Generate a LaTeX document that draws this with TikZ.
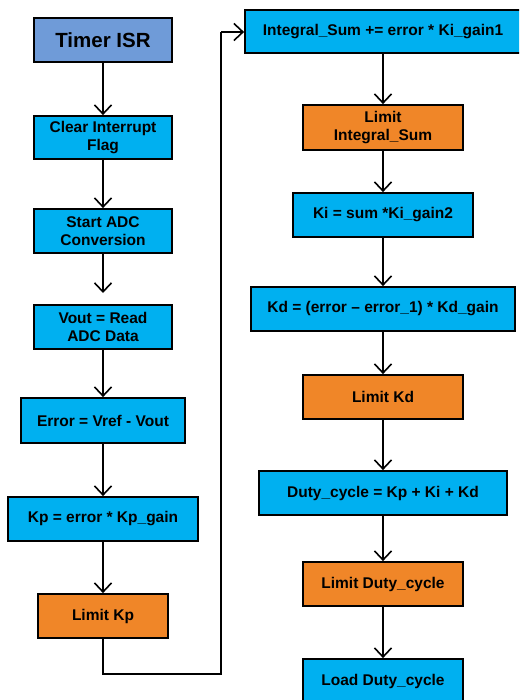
\documentclass[tikz,border=0pt]{standalone}
\usepackage{fontspec}
\setmainfont{Liberation Sans}
\usetikzlibrary{arrows.meta}
\definecolor{cblue}{RGB}{0,176,240}
\definecolor{corange}{RGB}{240,134,40}
\definecolor{cstart}{RGB}{111,155,216}
\begin{document}
\begin{tikzpicture}[x=1pt,y=-1pt,
  box/.style={draw=black,line width=1.8pt,inner sep=0pt,align=center,
    font=\fontsize{15.5}{18.5}\selectfont\bfseries,fill=cblue},
  obox/.style={box,fill=corange},
  conn/.style={line width=1.6pt,-{Straight Barb[length=9pt,width=17pt,line width=1.6pt]}},
  wire/.style={line width=1.6pt}]
\useasboundingbox (0,0) rectangle (519,700);
\clip (0,0) rectangle (519,700);
% left column
\node[box,fill=cstart,minimum width=138,minimum height=44,font=\fontsize{20.5}{24}\selectfont\bfseries] (timer) at (103,40) {Timer ISR};
\node[box,minimum width=138,minimum height=43] (clear) at (103,137.5) {Clear Interrupt\\Flag};
\node[box,minimum width=138,minimum height=44] (start) at (103,231) {Start ADC\\Conversion};
\node[box,minimum width=138,minimum height=44] (vout) at (103,327) {Vout = Read\\ADC Data};
\node[box,minimum width=164,minimum height=45] (error) at (103,420.5) {Error = Vref - Vout};
\node[box,minimum width=190,minimum height=44] (kp) at (103,519) {Kp = error * Kp\_gain};
\node[obox,minimum width=130,minimum height=44] (limkp) at (103,616) {Limit Kp};
% right column
\node[box,minimum width=276,minimum height=43] (integ) at (383,31.5) {Integral\_Sum += error * Ki\_gain1};
\node[obox,minimum width=160,minimum height=45] (limint) at (383,127.5) {Limit\\Integral\_Sum};
\node[box,minimum width=180,minimum height=44] (ki) at (383,215) {Ki = sum *Ki\_gain2};
\node[box,minimum width=264,minimum height=44] (kd) at (383,309) {Kd = (error – error\_1) * Kd\_gain};
\node[obox,minimum width=160,minimum height=44] (limkd) at (383,397) {Limit Kd};
\node[box,minimum width=248,minimum height=44] (duty) at (383,493) {Duty\_cycle = Kp + Ki + Kd};
\node[obox,minimum width=160,minimum height=44] (limduty) at (383,584) {Limit Duty\_cycle};
\node[box,minimum width=160,minimum height=44] (load) at (383,681) {Load Duty\_cycle};
% connectors
\coordinate (gapend) at (103,293);
\coordinate (lb) at (103,674);
\coordinate (rb) at (221,674);
\coordinate (rt) at (221,32);
\draw[conn] (timer) -- (clear);
\draw[conn] (clear) -- (start);
\draw[conn] (start.south) -- (gapend);
\draw[conn] (vout) -- (error);
\draw[conn] (error) -- (kp);
\draw[conn] (kp) -- (limkp);
\draw[wire] (limkp.south) -- (lb) -- (rb) -- (rt);
\draw[conn] (rt) -- (rt -| integ.west);
\draw[conn] (integ.south -| limint) -- (limint);
\draw[conn] (limint) -- (ki);
\draw[conn] (ki) -- (kd);
\draw[conn] (kd) -- (limkd);
\draw[conn] (limkd) -- (duty);
\draw[conn] (duty) -- (limduty);
\draw[conn] (limduty) -- (load);
\end{tikzpicture}
\end{document}
